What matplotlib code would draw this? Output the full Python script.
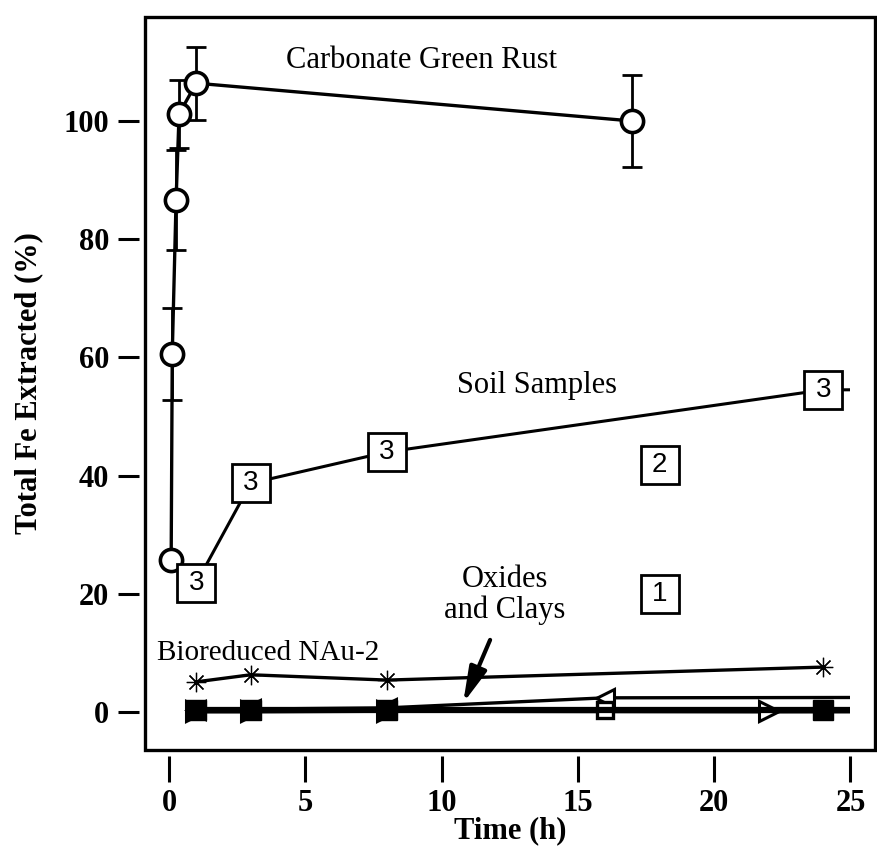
import matplotlib
matplotlib.use('Agg')
import matplotlib.pyplot as plt
from matplotlib.patches import Rectangle

# ---------------- data ----------------
cgr_t = [0.08, 0.12, 0.26, 0.37, 1.0, 17.0]
cgr_fe = [25.8, 60.6, 86.6, 101.2, 106.4, 100.0]
cgr_err = [0.0, 7.8, 8.5, 5.8, 6.2, 7.8]

soil_t = [1, 3, 8, 24, 48]
soil_fe = [21.8, 38.7, 44.0, 54.5, 55.0]
soil_tag = ['3', '3', '3', '3', '3']
soil_extra_t = [18, 18]
soil_extra_fe = [41.8, 20.0]
soil_extra_tag = ['2', '1']

nau_t = [1, 3, 8, 24]
nau_fe = [5.1, 6.3, 5.4, 7.6]

ox_fill_t = [1, 3, 8, 24, 48]
ox_fill_fe = [0.3, 0.3, 0.3, 0.3, 0.3]
ox_open_t = [1, 3, 8, 16, 48]
ox_open_fe = [0.3, 0.3, 0.3, 0.3, 0.3]
ox_right_t = [1, 3, 8, 22, 48]
ox_right_fe = [0.1, 0.1, 0.2, 0.1, 0.2]
ox_left_t = [1, 3, 8, 16, 48]
ox_left_fe = [0.4, 0.5, 0.7, 2.4, 2.6]

x_ticks = [0, 5, 10, 15, 20, 25]
y_ticks = [0, 20, 40, 60, 80, 100]
x_data_end = 25

# ---------------- figure ----------------
serif = ['Liberation Serif', 'DejaVu Serif']
plt.rcParams['font.family'] = serif

fig = plt.figure(figsize=(8.77, 8.49), dpi=100)
ax = fig.add_axes([145/877, 1 - 750/849, 730/877, 733/849])
xmin, xmax = -0.88, 25.9
ymin, ymax = -6.43, 117.6
ax.set_xlim(xmin, xmax)
ax.set_ylim(ymin, ymax)

for s in ax.spines.values():
    s.set_visible(False)
ax.spines['bottom'].set_position(('outward', 4))
ax.spines['left'].set_position(('outward', 4))
ax.add_patch(Rectangle((0, 0), 1, 1, transform=ax.transAxes, fill=False,
                       lw=2.4, ec='black', clip_on=False, zorder=10))

# data region ends at x = 25 (lines are cut there)
clip = Rectangle((xmin, ymin), x_data_end - xmin, ymax - ymin,
                 transform=ax.transData, visible=False)
ax.add_patch(clip)

ax.set_xticks(x_ticks)
ax.set_yticks(y_ticks)
ax.tick_params(axis='both', direction='out', width=2.2, color='black',
               labelsize=22)
ax.tick_params(axis='x', length=19, pad=5)
ax.tick_params(axis='y', length=15, pad=7)
for lab in ax.get_xticklabels() + ax.get_yticklabels():
    lab.set_fontweight('bold')

ax.set_xlabel('Time (h)', fontsize=22, fontweight='bold')
ax.set_ylabel('Total Fe Extracted (%)', fontsize=22, fontweight='bold')
ax.xaxis.set_label_coords(0.5, -0.09)
ax.yaxis.set_label_coords(-0.14, 0.5)

lines = []
# Oxides and clays
lines += ax.plot(ox_left_t, ox_left_fe, color='black', lw=2.4, marker='<', ms=13,
                 mfc='white', mec='black', mew=2.2, zorder=3)
lines += ax.plot(ox_right_t, ox_right_fe, color='black', lw=3, marker='>', ms=14,
                 mfc='white', mec='black', mew=2.2, zorder=3)
lines += ax.plot(ox_open_t, ox_open_fe, color='black', lw=3, marker='s', ms=11,
                 mfc='white', mec='black', mew=2.4, zorder=4)
lines += ax.plot(ox_fill_t, ox_fill_fe, color='black', lw=4.5, marker='s', ms=15,
                 mfc='black', mec='black', zorder=5)

# Bioreduced NAu-2
lines += ax.plot(nau_t, nau_fe, color='black', lw=2.4, marker=(8, 2, 0), ms=14,
                 mec='black', mew=0.9, zorder=4)

# Carbonate green rust
ax.errorbar(cgr_t, cgr_fe, yerr=cgr_err, fmt='none', ecolor='black',
            elinewidth=2, capsize=7, capthick=2, zorder=5)
lines += ax.plot(cgr_t, cgr_fe, color='black', lw=2.4, marker='o', ms=16,
                 mfc='white', mec='black', mew=2.6, zorder=6)

# Soil samples
lines += ax.plot(soil_t, soil_fe, color='black', lw=2.2, marker='s', ms=27,
                 mfc='white', mec='black', mew=2, zorder=7)
for t, v, tag in zip(soil_t, soil_fe, soil_tag):
    if t <= x_data_end:
        ax.text(t, v, tag, ha='center', va='center', fontsize=20,
                family=['Liberation Sans', 'DejaVu Sans'], zorder=8)
ax.plot(soil_extra_t, soil_extra_fe, ls='none', marker='s', ms=27,
        mfc='white', mec='black', mew=2, zorder=7)
for t, v, tag in zip(soil_extra_t, soil_extra_fe, soil_extra_tag):
    ax.text(t, v, tag, ha='center', va='center', fontsize=20,
            family=['Liberation Sans', 'DejaVu Sans'], zorder=8)

for ln in lines:
    ln.set_clip_path(clip)

# annotations
ax.text(9.28, 110.2, 'Carbonate Green Rust', ha='center', va='center', fontsize=22)
ax.text(13.5, 55.3, 'Soil Samples', ha='center', va='center', fontsize=22)
ax.text(12.33, 19.8, 'Oxides\nand Clays', ha='center', va='center',
        fontsize=22, linespacing=1.08)
ax.text(3.63, 10.0, 'Bioreduced NAu-2', ha='center', va='center', fontsize=21)
ax.annotate('', xy=(10.79, 1.5), xytext=(11.78, 12.2),
            arrowprops=dict(arrowstyle='-|>,head_length=1.2,head_width=0.3',
                            lw=3, color='black', mutation_scale=18,
                            shrinkA=0, shrinkB=0), zorder=9)

fig.savefig('out.png', dpi=100)
